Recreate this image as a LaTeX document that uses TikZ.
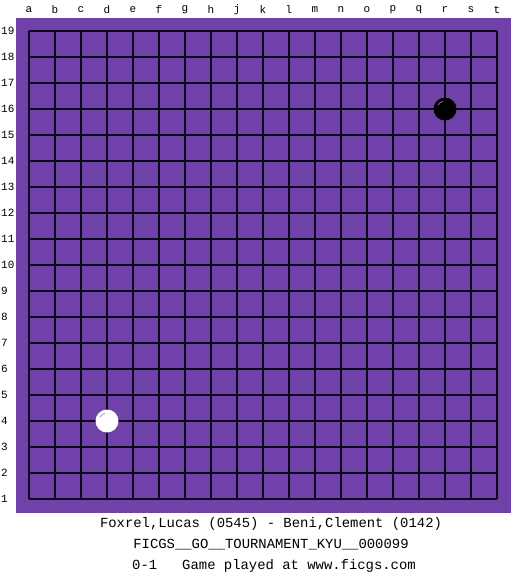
\documentclass[tikz,border=0pt]{standalone}
\usepackage{fontspec}
\setmonofont{Liberation Mono}
\definecolor{viola}{HTML}{7041A9}
\definecolor{griglia}{HTML}{0C0418}

\begin{document}
\begin{tikzpicture}[x=1pt, y=-1pt,
            every node/.style={font=\ttfamily, inner sep=0pt}]
        % Passo della griglia e origine (in pixel)
        \def\passo{26} \def\ox{29} \def\oy{31}

        \useasboundingbox (0,0) rectangle (525,575);

        % Tavoliere
        \fill[viola] (16,18) rectangle (511,513);
        \foreach \i in {0,...,18}{
                \draw[griglia, line width=1.2pt] (\ox+\i*\passo,\oy) -- (\ox+\i*\passo,\oy+18*\passo);
                \draw[griglia, line width=1.2pt] (\ox,\oy+\i*\passo) -- (\ox+18*\passo,\oy+\i*\passo);
            }

        % Coordinate del tavoliere
        \foreach \name [count=\i from 0] in {a,b,c,d,e,f,g,h,j,k,l,m,n,o,p,q,r,s,t}{
                \node[font=\ttfamily\fontsize{11}{13}\selectfont] (col-\name) at (\ox+\i*\passo,10) {\name};
            }
        \foreach \i in {1,...,19}{
                \node[anchor=west, font=\ttfamily\fontsize{11}{13}\selectfont] (row-\i) at (1,\oy+19*\passo-\i*\passo) {\i};
            }

        % Pietre
        \coordinate (r16) at (\ox+16*\passo,\oy+3*\passo);
        \coordinate (d4) at (\ox+3*\passo,\oy+15*\passo);
        \fill[black] (r16) circle[radius=11.5pt];
        \draw[gray, line width=0.8pt] (r16) ++(150:8pt) arc[start angle=150, end angle=105, radius=8pt];
        \fill[white] (d4) circle[radius=11.5pt];
        \draw[viola!60, line width=0.8pt] (d4) ++(150:8pt) arc[start angle=150, end angle=105, radius=8pt];

        % Intestazione della partita
        \node[font=\ttfamily\fontsize{13.9}{16}\selectfont] (giocatori) at (271,524)
        {Foxrel,Lucas (0545) - Beni,Clement (0142)};
        \node[font=\ttfamily\fontsize{13.9}{16}\selectfont] (torneo) at (271,545)
        {FICGS\_\_GO\_\_TOURNAMENT\_KYU\_\_000099};
        \node[font=\ttfamily\fontsize{13.9}{16}\selectfont] (risultato) at (274,566)
        {0-1~~~Game played at www.ficgs.com};
    \end{tikzpicture}
\end{document}
